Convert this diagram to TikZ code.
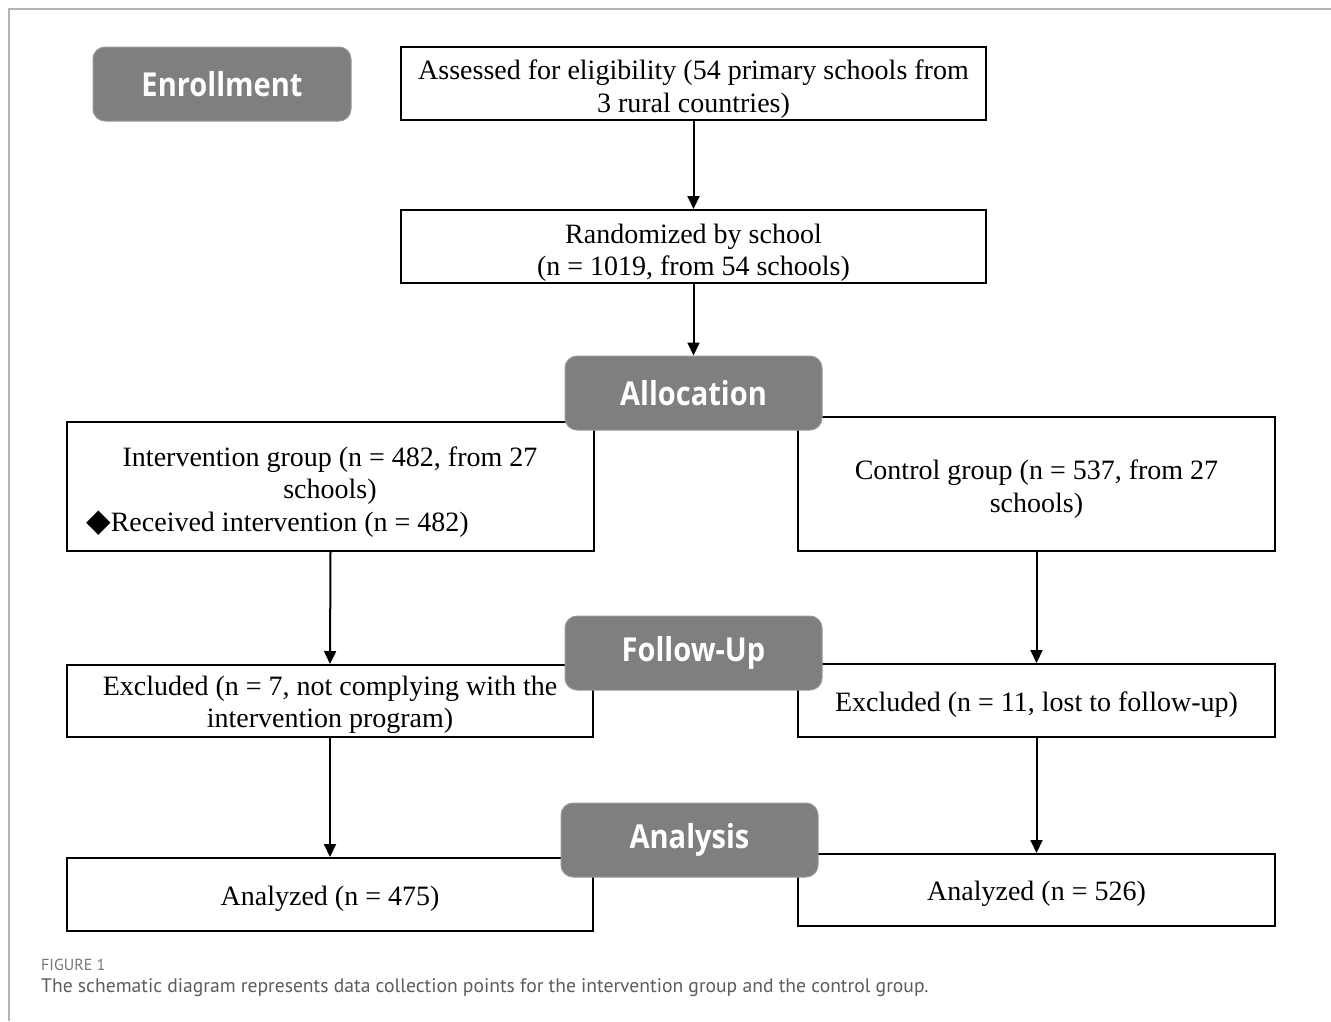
\documentclass[tikz,border=0pt]{standalone}
\usepackage{fontspec}
\setmainfont{Liberation Serif}
\newfontfamily\labfont{Open Sans}[FakeStretch=0.88]
\newfontfamily\capfont{PT Sans}
\newfontfamily\symfont{DejaVu Sans}
\usetikzlibrary{arrows.meta}
\definecolor{labgray}{HTML}{7F7F7F}
\definecolor{framegray}{HTML}{B4B4B4}
\definecolor{capgray}{HTML}{5C5C5C}
\tikzset{
  flowbox/.style={draw=black, line width=2pt, fill=white, inner sep=0pt},
  stagelabel/.style={fill=labgray, draw=labgray!80, line width=1pt, rounded corners=12pt,
    minimum width=257pt, minimum height=74pt, inner sep=0pt, text=white,
    font=\labfont\bfseries\fontsize{33}{36}\selectfont},
  flowarrow/.style={line width=2pt, -{Triangle[length=13pt,width=12pt]}},
  bodytext/.style={inner sep=0pt, align=center, font=\fontsize{28}{32.5}\selectfont}
}
\begin{document}
\begin{tikzpicture}[x=1pt, y=-1pt]
\useasboundingbox (0,0) rectangle (1331,1021);
% frame
\draw[framegray, line width=2pt] (9,1021) -- (9,9) -- (1331,9);
% boxes
\node[flowbox, minimum width=585pt, minimum height=73pt] (assess) at (693.5,83.5) {};
\node[flowbox, minimum width=585pt, minimum height=73pt] (rand) at (693.5,246.5) {};
\node[flowbox, minimum width=527pt, minimum height=129pt] (int) at (330.5,486.5) {};
\node[flowbox, minimum width=477pt, minimum height=134pt] (ctrl) at (1036.5,484) {};
\node[flowbox, minimum width=526pt, minimum height=72pt] (exclL) at (330,701) {};
\node[flowbox, minimum width=477pt, minimum height=73pt] (exclR) at (1036.5,700.5) {};
\node[flowbox, minimum width=526pt, minimum height=73pt] (anL) at (330,894.5) {};
\node[flowbox, minimum width=477pt, minimum height=72pt] (anR) at (1036.5,890) {};
% box texts
\node[bodytext] (assesstext) at (693.5,89)
  {Assessed for eligibility (54 primary schools from\\3 rural countries)};
\node[bodytext] (randtext) at (693.5,253)
  {Randomized by school\\(n = 1019, from 54 schools)};
\node[bodytext] (inttext) at (330,475.5) {Intervention group (n = 482, from 27\\schools)};
\node[bodytext, anchor=west] (intrec) at (86,524) {{\symfont\fontsize{32}{32}\selectfont ◆}Received intervention (n = 482)};
\node[bodytext] (ctrltext) at (1036.5,489)
  {Control group (n = 537, from 27\\schools)};
\node[bodytext] (exclLtext) at (330,705)
  {Excluded (n = 7, not complying with the\\intervention program)};
\node[bodytext] (exclRtext) at (1036.5,705)
  {Excluded (n = 11, lost to follow-up)};
\node[bodytext] (anLtext) at (330,899)
  {Analyzed (n = 475)};
\node[bodytext] (anRtext) at (1036.5,894)
  {Analyzed (n = 526)};
% stage labels
\node[stagelabel, minimum width=258pt] (enroll) at (222,84) {Enrollment};
\node[stagelabel] (alloc) at (693.5,393) {Allocation};
\node[stagelabel] (follow) at (693.5,653) {Follow-Up};
\node[stagelabel] (analysis) at (689.5,840) {Analysis};
% arrows
\draw[flowarrow] (assess.south) -- (rand.north);
\draw[flowarrow] (rand.south) -- (alloc.north);
\draw[flowarrow] (int.south) -- (exclL.north);
\draw[flowarrow] (ctrl.south) -- (exclR.north);
\draw[flowarrow] (exclL.south) -- (anL.north);
\draw[flowarrow] (exclR.south) -- (anR.north);
% caption
\node[anchor=west, inner sep=0pt, text=capgray!85, font=\capfont\fontsize{16}{18}\selectfont] (figlab) at (41,965) {FIGURE 1};
\node[anchor=west, inner sep=0pt, text=capgray, font=\capfont\fontsize{19.6}{22}\selectfont] (caption) at (41,988)
  {The schematic diagram represents data collection points for the intervention group and the control group.};
\end{tikzpicture}
\end{document}
